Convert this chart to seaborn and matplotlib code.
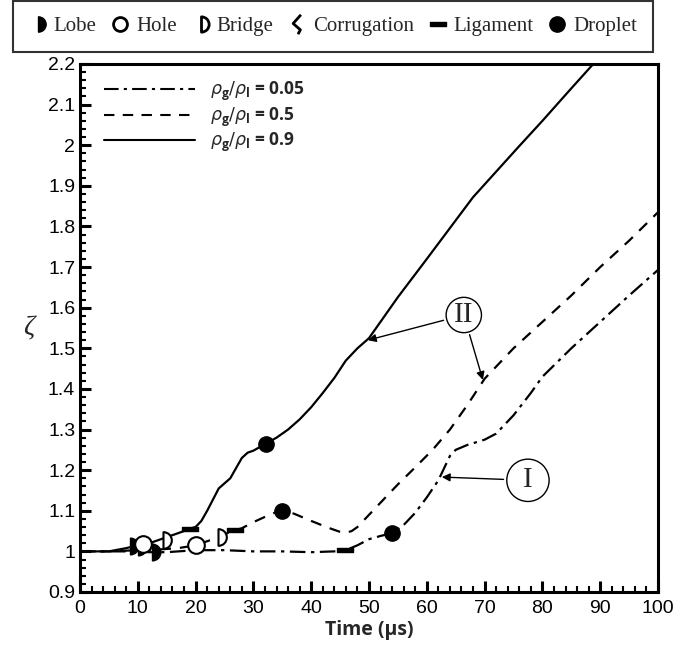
import numpy as np
import pandas as pd
import matplotlib
matplotlib.use('Agg')
import matplotlib.pyplot as plt
import seaborn as sns
from matplotlib.path import Path
from matplotlib.lines import Line2D
from matplotlib.ticker import MultipleLocator, FuncFormatter

# curves
t_005 = [0, 5, 10, 12, 15, 20, 25, 30, 35, 40, 44, 46, 48, 50, 52, 54, 56, 58, 60,
         62, 64, 65, 67, 70, 72, 75, 78, 80, 85, 90, 95, 100]
z_005 = [1.0, 1.0, 1.0, 0.998, 0.998, 1.003, 1.003, 1.0, 1.0, 0.998, 1.0, 1.003, 1.015,
         1.03, 1.038, 1.045, 1.065, 1.095, 1.133, 1.175, 1.235, 1.25, 1.262, 1.275,
         1.29, 1.335, 1.39, 1.43, 1.50, 1.565, 1.63, 1.693]

t_05 = [0, 5, 10, 14, 17, 20, 22, 24, 26, 28, 30, 32, 34, 35, 37, 40, 43, 45, 46, 47,
        48, 50, 52, 55, 58, 61, 64, 67, 70, 75, 80, 85, 90, 95, 100]
z_05 = [1.0, 1.0, 1.003, 1.005, 1.008, 1.015, 1.025, 1.035, 1.048, 1.057, 1.072, 1.085,
        1.097, 1.10, 1.093, 1.075, 1.058, 1.048, 1.046, 1.05, 1.06, 1.09, 1.12, 1.165,
        1.207, 1.25, 1.30, 1.36, 1.425, 1.50, 1.565, 1.63, 1.70, 1.765, 1.835]

t_09 = [0, 5, 8, 10, 12, 14, 16, 18, 19, 20, 21, 22, 24, 26, 28, 29, 30, 32, 34, 36,
        38, 40, 42, 44, 46, 48, 50, 55, 60, 65, 68, 72, 76, 80, 85, 88.8]
z_09 = [1.0, 1.0, 1.008, 1.015, 1.02, 1.03, 1.04, 1.05, 1.056, 1.06, 1.075, 1.10, 1.155,
        1.18, 1.23, 1.243, 1.248, 1.264, 1.28, 1.30, 1.325, 1.355, 1.39, 1.427, 1.47,
        1.50, 1.525, 1.626, 1.72, 1.815, 1.872, 1.935, 1.998, 2.06, 2.14, 2.2]

ratios = ['0.05', '0.5', '0.9']

# breakup events on the curves (time, zeta)
lobe_t = [8.6, 10.0, 12.4]
lobe_z = [1.013, 1.012, 0.998]
hole_t = [10.9, 20.0]
hole_z = [1.018, 1.015]
bridge_t = [14.4, 23.9]
bridge_z = [1.028, 1.035]
lig_t = [19.0, 26.8, 45.8]
lig_z = [1.056, 1.053, 1.003]
drop_t = [32.2, 35.0, 54.0]
drop_z = [1.264, 1.099, 1.045]

df = pd.concat([
    pd.DataFrame({'time': t_005, 'zeta': z_005, 'ratio': '0.05'}),
    pd.DataFrame({'time': t_05, 'zeta': z_05, 'ratio': '0.5'}),
    pd.DataFrame({'time': t_09, 'zeta': z_09, 'ratio': '0.9'}),
])

sns.set_style('ticks')
plt.rcParams['font.family'] = ['Liberation Sans', 'DejaVu Sans']
plt.rcParams['mathtext.fontset'] = 'dejavusans'

# marker shapes
arc = Path.arc(-90, 90)
half_disc = Path(np.vstack([arc.vertices, arc.vertices[:1]]),
                 np.concatenate([arc.codes, [Path.CLOSEPOLY]]))
zigzag = Path([(0.35, 1.0), (-0.45, 0.1), (0.3, -0.55), (0.05, -1.0)],
              [Path.MOVETO, Path.LINETO, Path.LINETO, Path.LINETO])
bar = Path([(-1, -0.22), (1, -0.22), (1, 0.22), (-1, 0.22), (-1, -0.22)],
           [Path.MOVETO, Path.LINETO, Path.LINETO, Path.LINETO, Path.CLOSEPOLY])

fig = plt.figure(figsize=(7, 6.46), dpi=100)
ax = fig.add_axes([80 / 700, 1 - 592 / 646, 578 / 700, 528 / 646])

dashes = {'0.05': (7, 2.5, 1.5, 2.5), '0.5': (5, 4), '0.9': ''}
sns.lineplot(data=df, x='time', y='zeta', style='ratio', style_order=ratios,
             dashes=dashes, color='black', lw=1.6, sort=False, estimator=None,
             legend=False, ax=ax)

ms = 12
ax.plot(lobe_t, lobe_z, ls='none', marker=half_disc, ms=ms, color='black')
ax.plot(hole_t, hole_z, ls='none', marker='o', ms=ms, mfc='white', mec='black', mew=1.5)
ax.plot(bridge_t, bridge_z, ls='none', marker=half_disc, ms=ms, mfc='white',
        mec='black', mew=1.5)
ax.plot(lig_t, lig_z, ls='none', marker=bar, ms=ms, color='black')
ax.plot(drop_t, drop_z, ls='none', marker='o', ms=ms - 1, color='black')

ax.set_xlim(0, 100)
ax.set_ylim(0.9, 2.2)
ax.xaxis.set_major_locator(MultipleLocator(10))
ax.xaxis.set_minor_locator(MultipleLocator(2))
ax.yaxis.set_major_locator(MultipleLocator(0.1))
ax.yaxis.set_minor_locator(MultipleLocator(0.02))
ax.yaxis.set_major_formatter(FuncFormatter(lambda v, p: '%g' % round(v, 2)))
ax.tick_params(which='both', direction='in', top=False, right=False, width=1.5,
               labelsize=14, colors='black')
ax.tick_params(axis='x', which='major', pad=6)
ax.tick_params(which='major', length=8, width=2.2)
ax.tick_params(which='minor', length=4)
for s in ax.spines.values():
    s.set_linewidth(2.2)
    s.set_color('black')

ax.set_xlabel('Time (\u00b5s)', fontfamily='Open Sans', fontweight='bold',
              fontsize=14, labelpad=2)
ax.set_ylabel('\u03b6', fontfamily='Liberation Serif', fontstyle='italic',
              fontsize=20, rotation=0, labelpad=14, va='center')

# legend of the three curves
h = [Line2D([], [], color='black', lw=1.5, dashes=(7, 2.5, 1.5, 2.5)),
     Line2D([], [], color='black', lw=1.5, dashes=(5, 4)),
     Line2D([], [], color='black', lw=1.5)]
labs = [r'$\rho_\mathregular{g}/\rho_\mathregular{l}$ = ' + r for r in ratios]
ax.legend(h, labs, loc='upper left', bbox_to_anchor=(0.015, 1.0), frameon=False,
          handlelength=5.2, handletextpad=0.9, labelspacing=0.15,
          prop={'family': 'Open Sans', 'weight': 'bold', 'size': 12.5})

# annotations
arr = dict(arrowstyle='-|>', color='black', lw=1, mutation_scale=12, shrinkB=0)
ax.annotate('II', xy=(49.8, 1.52), xytext=(66.4, 1.582), ha='center', va='center',
            fontsize=21, fontfamily='Liberation Serif',
            bbox=dict(boxstyle='circle,pad=0.16', fc='white', ec='black', lw=1),
            arrowprops=arr)
ax.annotate('II', xy=(69.7, 1.422), xytext=(66.4, 1.582), ha='center', va='center',
            fontsize=21, fontfamily='Liberation Serif', color='none',
            bbox=dict(boxstyle='circle,pad=0.16', fc='none', ec='none'), arrowprops=arr)
ax.annotate('I', xy=(62.6, 1.183), xytext=(77.5, 1.175), ha='center', va='center',
            fontsize=21, fontfamily='Liberation Serif',
            bbox=dict(boxstyle='circle,pad=0.28', fc='white', ec='black', lw=1),
            arrowprops=arr)

# legend of the breakup events
kinds = ['Lobe', 'Hole', 'Bridge', 'Corrugation', 'Ligament', 'Droplet']
ev = [Line2D([], [], ls='none', marker=half_disc, ms=11, color='black'),
      Line2D([], [], ls='none', marker='o', ms=10, mfc='white', mec='black', mew=2),
      Line2D([], [], ls='none', marker=half_disc, ms=11, mfc='white', mec='black', mew=2),
      Line2D([], [], ls='none', marker=zigzag, ms=14, mfc='none', mec='black', mew=2),
      Line2D([], [], ls='none', marker=bar, ms=12, color='black'),
      Line2D([], [], ls='none', marker='o', ms=11, color='black')]
leg = fig.legend(ev, kinds, loc='upper left', bbox_to_anchor=(13 / 700, 1 - 1 / 646),
                 ncol=6, frameon=True, fancybox=False, edgecolor='black',
                 borderaxespad=0, handlelength=0.9, handletextpad=0.3,
                 columnspacing=0.7, borderpad=0.75,
                 prop={'family': 'Liberation Serif', 'size': 15})
leg.get_frame().set_linewidth(1.5)

fig.savefig('out.png', dpi=100)
